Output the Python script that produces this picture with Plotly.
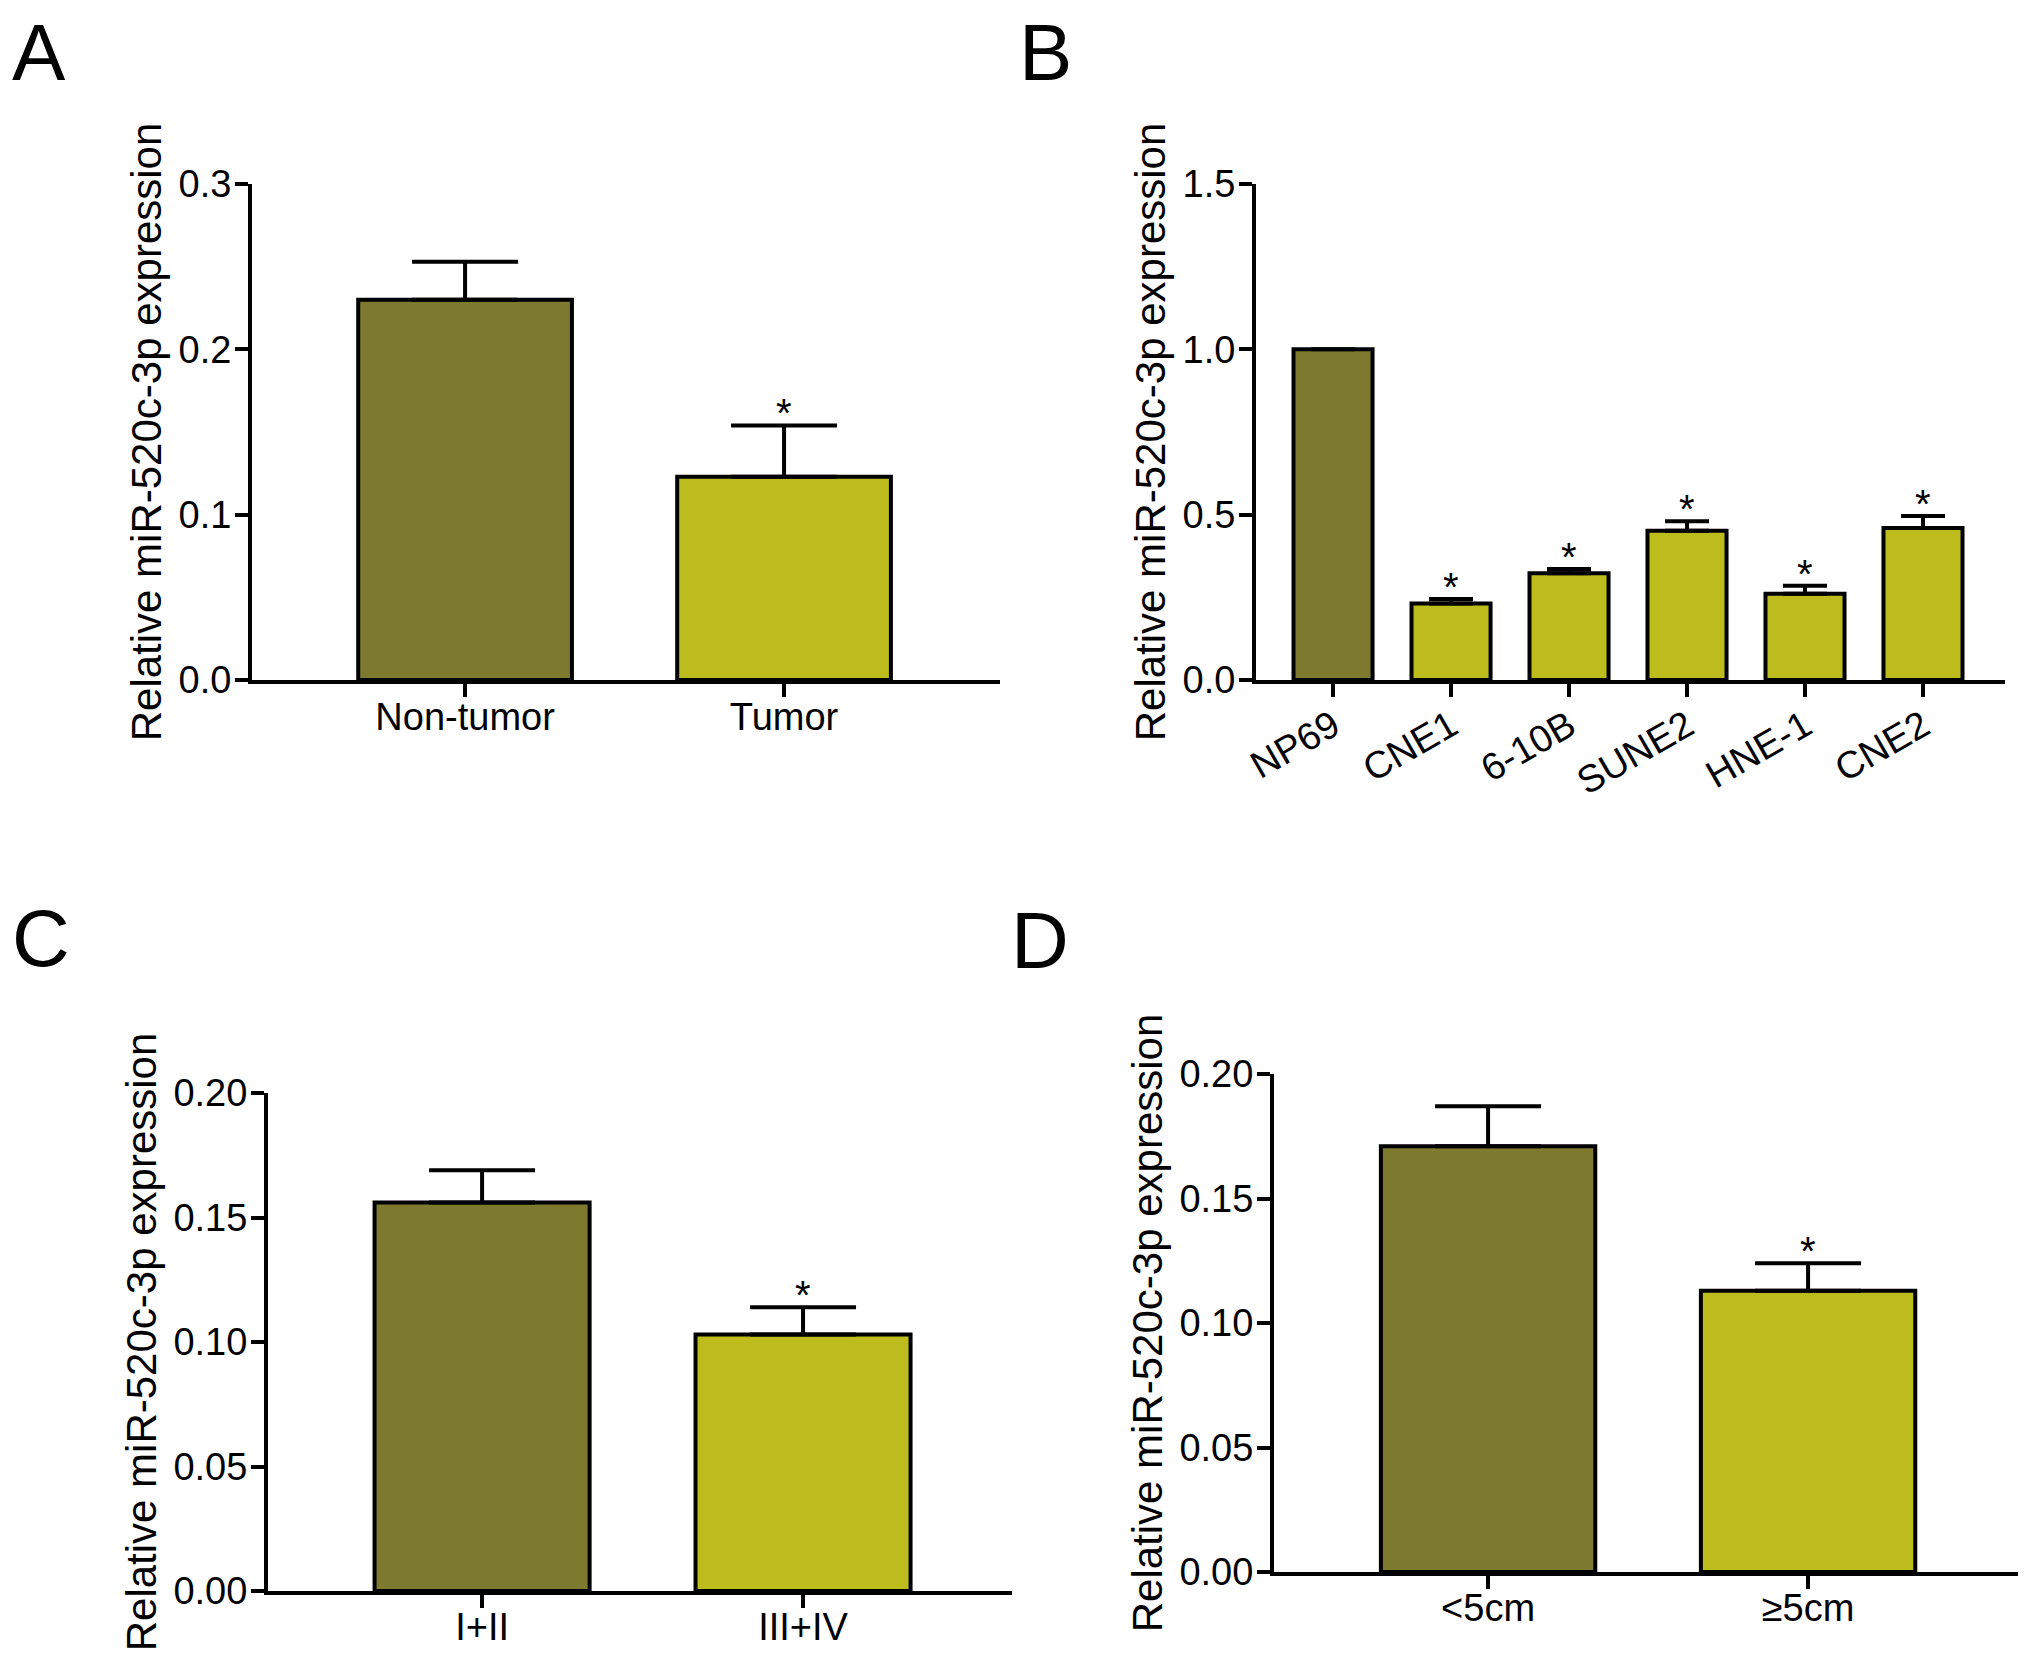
#!/usr/bin/env python3

#  Plotly Libraries
import plotly.graph_objects as go
from plotly.subplots import make_subplots

#  Panel A - tissue
a_groups = [ 'Non-tumor', 'Tumor' ]
a_values = [ 0.230, 0.123 ]
a_errors = [ 0.023, 0.031 ]
a_stars  = [ False, True ]

#  Panel B - cell lines
b_groups = [ 'NP69', 'CNE1', '6-10B', 'SUNE2', 'HNE-1', 'CNE2' ]
b_values = [ 1.000, 0.231, 0.323, 0.451, 0.261, 0.460 ]
b_errors = [ 0.000, 0.014, 0.013, 0.029, 0.024, 0.036 ]
b_stars  = [ False, True, True, True, True, True ]

#  Panel C - clinical stage
c_groups = [ 'I+II', 'III+IV' ]
c_values = [ 0.156, 0.103 ]
c_errors = [ 0.013, 0.011 ]
c_stars  = [ False, True ]

#  Panel D - tumor size
d_groups = [ '<5cm', '≥5cm' ]
d_values = [ 0.171, 0.113 ]
d_errors = [ 0.016, 0.011 ]
d_stars  = [ False, True ]

#  Axis ticks
a_ticks = [ 0.0, 0.1, 0.2, 0.3 ]
b_ticks = [ 0.0, 0.5, 1.0, 1.5 ]
c_ticks = [ 0.00, 0.05, 0.10, 0.15, 0.20 ]
d_ticks = [ 0.00, 0.05, 0.10, 0.15, 0.20 ]

y_title = 'Relative miR-520c-3p expression'
panel_letters = [ 'A', 'B', 'C', 'D' ]

DARK  = '#7d7a30'
LIGHT = '#bcbc1c'
FONT  = 'Arial, Liberation Sans, sans-serif'

#  The page body keeps its default 8px margin, so the figure is drawn
#  8px in from the window corner and is 16px smaller than the window.
PAGE_PAD = 8
FIG_W = 2031 - 2 * PAGE_PAD
FIG_H = 1664 - 2 * PAGE_PAD

def px_x( x ):
    return ( x - PAGE_PAD ) / FIG_W

def px_y( y ):
    return 1 - ( y - PAGE_PAD ) / FIG_H


def add_panel( fig, row, col, groups, values, errors, stars, cap ):

    colors = [ DARK ] + [ LIGHT ] * ( len(groups) - 1 )
    fig.add_trace( go.Bar( x = list(range(len(groups))), y = values,
                           width = 0.67,
                           marker_color = colors,
                           marker_line_color = 'black',
                           marker_line_width = 4,
                           error_y = dict( type = 'data', array = errors,
                                           arrayminus = [0] * len(errors),
                                           symmetric = False,
                                           color = 'black', thickness = 4,
                                           width = cap ),
                           showlegend = False ),
                   row = row, col = col )

    #  significance marks
    for i, flag in enumerate( stars ):
        if flag:
            fig.add_annotation( x = i, y = values[i] + errors[i],
                                text = '*', showarrow = False,
                                yanchor = 'bottom', yshift = -12,
                                font = dict( size = 40, color = 'black', family = FONT ),
                                row = row, col = col )


fig = make_subplots( rows = 2, cols = 2 )

add_panel( fig, 1, 1, a_groups, a_values, a_errors, a_stars, 53 )
add_panel( fig, 1, 2, b_groups, b_values, b_errors, b_stars, 22 )
add_panel( fig, 2, 1, c_groups, c_values, c_errors, c_stars, 53 )
add_panel( fig, 2, 2, d_groups, d_values, d_errors, d_stars, 53 )

axis_style = dict( showline = True, linecolor = 'black', linewidth = 4,
                   showgrid = False, zeroline = False, automargin = False,
                   ticks = 'outside', ticklen = 13, tickwidth = 4, tickcolor = 'black',
                   tickfont = dict( size = 38, color = 'black', family = FONT ) )

#  x axes: (row, col, labels, left px, right px, range, angle, label standoff)
x_setup = [ ( 1, 1, a_groups,  252, 1000, [-0.668, 1.677],   0, -13 ),
            ( 1, 2, b_groups, 1256, 2005, [-0.653, 5.695], -30,  -8 ),
            ( 2, 1, c_groups,  268, 1012, [-0.667, 1.651],   0, -14 ),
            ( 2, 2, d_groups, 1274, 2018, [-0.669, 1.656],   0, -14 ) ]
for row, col, groups, left, right, rng, ang, stand in x_setup:
    fig.update_xaxes( domain = [ px_x(left), px_x(right) ], range = rng,
                      tickmode = 'array', tickvals = list(range(len(groups))),
                      ticktext = groups, tickangle = ang,
                      ticklabelstandoff = stand,
                      row = row, col = col, **axis_style )

#  y axes: (row, col, ticks, bottom px, top px, format)
y_setup = [ ( 1, 1, a_ticks,  680,  184, '.1f' ),
            ( 1, 2, b_ticks,  680,  184, '.1f' ),
            ( 2, 1, c_ticks, 1591, 1093, '.2f' ),
            ( 2, 2, d_ticks, 1572, 1074, '.2f' ) ]
for row, col, ticks, bottom, top, fmt in y_setup:
    fig.update_yaxes( domain = [ px_y(bottom), px_y(top) ],
                      range = [ ticks[0], ticks[-1] ],
                      tickmode = 'array', tickvals = ticks, tickformat = fmt,
                      ticklabelstandoff = -4,
                      title = dict( text = y_title, standoff = 5,
                                    font = dict( size = 42, color = 'black', family = FONT ) ),
                      row = row, col = col, **axis_style )

#  panel letters
letter_pos = [ ( 39, 53 ), ( 1045, 53 ), ( 41, 938 ), ( 1040, 940 ) ]
for letter, ( lx, ly ) in zip( panel_letters, letter_pos ):
    fig.add_annotation( x = px_x(lx), y = px_y(ly), xref = 'paper', yref = 'paper',
                        text = letter, showarrow = False,
                        xanchor = 'center', yanchor = 'middle',
                        font = dict( size = 80, color = 'black', family = FONT ) )

fig.update_layout( width = FIG_W, height = FIG_H,
                   margin = dict( l = 0, r = 0, t = 0, b = 0 ),
                   paper_bgcolor = 'white', plot_bgcolor = 'white',
                   font = dict( family = FONT, color = 'black' ) )

fig.write_html( 'out.html' )
